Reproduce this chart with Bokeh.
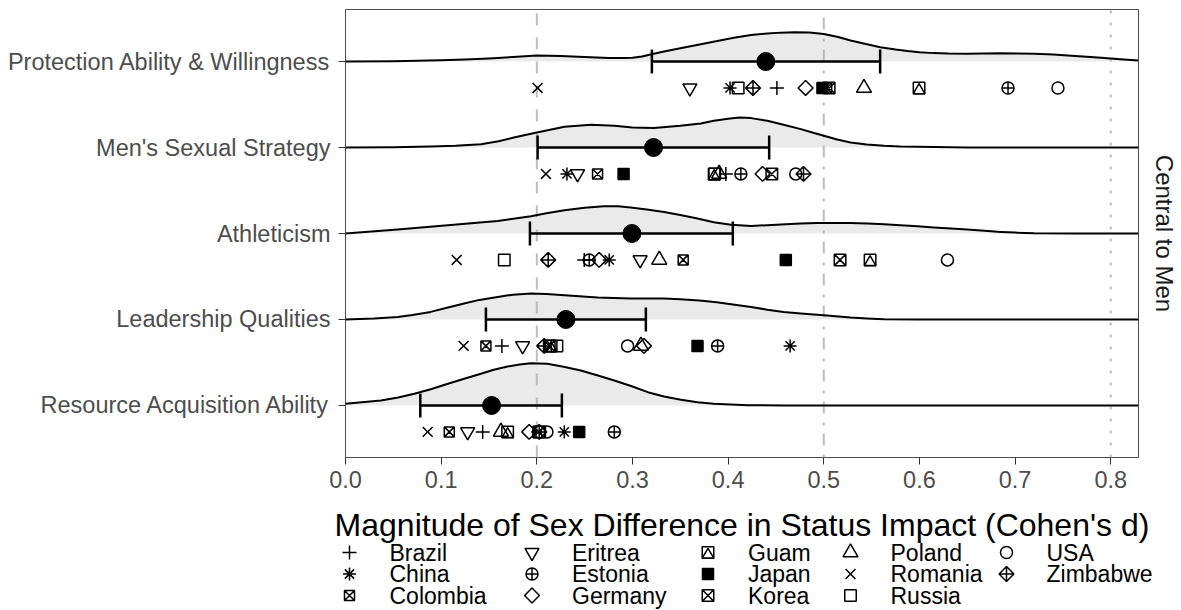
import math
from bokeh.plotting import figure
from bokeh.models import (Range1d, FixedTicker, PrintfTickFormatter, Title, ColumnDataSource)
from bokeh.core.properties import value
from bokeh.embed import file_html
from bokeh.resources import INLINE

FONT = "Liberation Sans"

# ---------------- data ----------------
categories = ["Protection Ability & Willingness", "Men's Sexual Strategy", "Athleticism",
              "Leadership Qualities", "Resource Acquisition Ability"]
row_y = [5, 4, 3, 2, 1]
x_label = "Magnitude of Sex Difference in Status Impact (Cohen's d)"
facet_label = "Central to Men"

means = [0.4394, 0.3220, 0.2994, 0.2304, 0.1527]
ci_low = [0.3203, 0.2008, 0.1928, 0.1468, 0.0782]
ci_high = [0.5589, 0.4429, 0.4049, 0.3140, 0.2262]

# ridge (density) curves: x position and height above the baseline (px)
ridge_x_protection = [0.0, 0.05, 0.10, 0.125, 0.15, 0.175, 0.20, 0.225, 0.25, 0.275, 0.29, 0.30,
                      0.31, 0.32, 0.333, 0.35, 0.3715, 0.39, 0.406, 0.424, 0.441, 0.455, 0.469,
                      0.485, 0.50, 0.515, 0.528, 0.544, 0.559, 0.575, 0.5875, 0.60, 0.615, 0.63,
                      0.65, 0.685, 0.72, 0.74, 0.755, 0.775, 0.79, 0.81, 0.829]
ridge_h_protection = [0.0, 0.3, 1.2, 2.0, 3.0, 4.5, 6.0, 5.5, 4.5, 3.6, 3.4, 3.8, 5.0, 7.3, 10.0,
                      13.3, 17.3, 20.7, 23.8, 26.5, 28.0, 28.9, 29.3, 29.0, 27.5, 24.5, 21.0, 17.5,
                      14.3, 12.0, 10.5, 9.3, 8.4, 7.9, 7.7, 8.2, 7.7, 6.9, 6.0, 4.8, 3.7, 2.3, 1.0]
ridge_x_mens = [0.0, 0.05, 0.089, 0.115, 0.1416, 0.16, 0.176, 0.20, 0.229, 0.2566, 0.281, 0.30,
                0.3224, 0.35, 0.3715, 0.385, 0.40, 0.412, 0.424, 0.441, 0.46, 0.476, 0.488, 0.50,
                0.514, 0.528, 0.545, 0.563, 0.58, 0.598, 0.65, 0.829]
ridge_h_mens = [0.0, 0.2, 1.0, 1.8, 3.3, 6.3, 10.0, 15.0, 20.7, 22.7, 21.7, 20.0, 19.4, 21.7, 24.0,
                26.7, 28.8, 29.9, 29.4, 26.7, 22.2, 18.4, 15.0, 11.7, 8.0, 5.0, 3.0, 1.7, 1.0, 0.7,
                0.0, 0.0]
ridge_x_athl = [0.0, 0.0545, 0.107, 0.159, 0.194, 0.21, 0.229, 0.25, 0.27, 0.285, 0.298, 0.315,
                0.333, 0.35, 0.368, 0.385, 0.403, 0.424, 0.441, 0.46, 0.476, 0.493, 0.5105, 0.528,
                0.5456, 0.563, 0.58, 0.598, 0.615, 0.633, 0.65, 0.668, 0.685, 0.70, 0.72, 0.76,
                0.829]
ridge_h_athl = [0.0, 4.0, 8.3, 12.6, 17.3, 20.3, 23.3, 25.8, 27.3, 27.2, 26.0, 24.0, 21.6, 18.5,
                15.0, 11.3, 8.7, 7.6, 8.3, 9.3, 10.0, 10.4, 10.6, 10.4, 10.0, 9.2, 8.3, 7.2, 6.0,
                5.0, 4.0, 2.7, 1.6, 0.9, 0.3, 0.0, 0.0]
ridge_x_lead = [0.0, 0.03, 0.0545, 0.07, 0.089, 0.105, 0.124, 0.14, 0.159, 0.175, 0.194, 0.21,
                0.229, 0.2636, 0.298, 0.333, 0.35, 0.37, 0.388, 0.405, 0.424, 0.441, 0.458, 0.476,
                0.50, 0.528, 0.545, 0.563, 0.60, 0.829]
ridge_h_lead = [0.0, 1.0, 2.6, 4.6, 7.6, 11.5, 16.0, 19.6, 22.6, 24.8, 26.0, 25.5, 24.3, 22.0,
                21.0, 21.0, 20.3, 19.0, 17.2, 15.0, 12.5, 9.8, 7.6, 6.0, 4.3, 2.0, 1.0, 0.3, 0.0,
                0.0]
ridge_x_res = [0.0, 0.037, 0.055, 0.072, 0.09, 0.107, 0.125, 0.1416, 0.155, 0.1695, 0.182, 0.1938,
               0.211, 0.228, 0.246, 0.263, 0.281, 0.30, 0.316, 0.333, 0.3506, 0.368, 0.385, 0.42,
               0.46, 0.829]
ridge_h_res = [1.7, 5.0, 8.0, 11.7, 16.5, 21.7, 27.0, 31.7, 35.8, 39.0, 41.0, 42.3, 41.7, 38.8,
               35.0, 30.2, 25.0, 19.0, 13.3, 9.0, 5.7, 3.3, 1.7, 0.3, 0.0, 0.0]

ridges_x = [ridge_x_protection, ridge_x_mens, ridge_x_athl, ridge_x_lead, ridge_x_res]
ridges_h = [ridge_h_protection, ridge_h_mens, ridge_h_athl, ridge_h_lead, ridge_h_res]

countries = ["Brazil", "China", "Colombia", "Eritrea", "Estonia", "Germany", "Guam", "Japan",
             "Korea", "Poland", "Romania", "Russia", "USA", "Zimbabwe"]
# values per category (same order as categories)
brazil = [0.451, 0.3976, 0.2496, 0.1635, 0.1434]
china = [0.402, 0.2315, 0.2757, 0.4648, 0.2287]
colombia = [0.5030, 0.2635, 0.353, 0.1468, 0.1085]
eritrea = [0.360, 0.2426, 0.308, 0.1852, 0.1277]
estonia = [0.6926, 0.4133, 0.2548, 0.389, 0.281]
germany = [0.481, 0.436, 0.2652, 0.312, 0.192]
guam = [0.5996, 0.3854, 0.5484, 0.2150, 0.1695]
japan = [0.4986, 0.2907, 0.4603, 0.368, 0.2443]
korea = [0.5056, 0.4457, 0.517, 0.2130, 0.2020]
poland = [0.542, 0.3906, 0.328, 0.3088, 0.1625]
romania = [0.2008, 0.2095, 0.1162, 0.1235, 0.0859]
russia = [0.4105, 0.3860, 0.166, 0.221, 0.2030]
usa = [0.7448, 0.4707, 0.6293, 0.2949, 0.2106]
zimbabwe = [0.426, 0.4788, 0.2119, 0.2077, 0.2025]
country_values = [brazil, china, colombia, eritrea, estonia, germany, guam, japan, korea, poland,
                  romania, russia, usa, zimbabwe]
legend_columns = [["Brazil", "China", "Colombia"], ["Eritrea", "Estonia", "Germany"],
                  ["Guam", "Japan", "Korea"], ["Poland", "Romania", "Russia"], ["USA", "Zimbabwe"]]

# ---------------- styles ----------------
PX_PER_ROW = 86.0          # pixel height of one row spacing
POINT_OFFSET = 0.307       # rows below the ridge baseline for country points
X0, X1 = 0.0, 0.829
Y0, Y1 = 0.395, 5.605
FRAME_W, FRAME_H = 793, 448
LEFT, RIGHT, TOP, BOTTOM = 345, 43, 9, 45
PAGE_W, PAGE_H = 1181, 610
px_y = (Y1 - Y0) / FRAME_H  # data units per pixel (y)

# (marker, size, angle, fill, dy_px)
marker_style = {
    "Brazil": [("cross", 14, 0, None, 0)],
    "China": [("asterisk", 13, 0, None, 0)],
    "Colombia": [("square_x", 10, 0, None, 0)],
    "Eritrea": [("inverted_triangle", 14, 0, None, 0)],
    "Estonia": [("circle_cross", 12, 0, None, 0)],
    "Germany": [("square", 10.5, math.pi / 4, None, 0)],
    "Guam": [("square", 11.5, 0, None, 0), ("triangle", 11.5, 0, None, 2.4)],
    "Japan": [("square", 11, 0, "black", 0)],
    "Korea": [("square_x", 11.5, 0, None, 0)],
    "Poland": [("triangle", 15, 0, None, 0)],
    "Romania": [("x", 14, 0, None, 0)],
    "Russia": [("square", 11.5, 0, None, 0)],
    "USA": [("circle", 12, 0, None, 0)],
    "Zimbabwe": [("square_x", 10.5, math.pi / 4, None, 0)],
}
legend_glyph_x = [349, 531.5, 707.5, 850, 1006]   # page px
LEGEND_ROW1_Y = 552                                # page px
LEGEND_PITCH = 21.5
LEGEND_TEXT_GAP = 40
XLABEL_BASELINE_Y = 524                            # page px

p = figure(frame_width=FRAME_W, frame_height=FRAME_H, output_backend="svg", toolbar_location=None,
           x_range=Range1d(X0, X1), y_range=Range1d(Y0, Y1),
           min_border_left=LEFT, min_border_right=RIGHT, min_border_top=TOP,
           min_border_bottom=BOTTOM, background_fill_color="white", border_fill_color="white")
p.grid.visible = False
p.outline_line_color = "#4d4d4d"
p.outline_line_width = 1

# reference lines
p.segment(x0=[0.2], y0=[Y0], x1=[0.2], y1=[Y1], line_color="#bdbdbd", line_width=2, line_dash="12 12")
p.segment(x0=[0.5], y0=[Y0], x1=[0.5], y1=[Y1], line_color="#bdbdbd", line_width=2, line_dash="3 9 12 8")
p.segment(x0=[0.8], y0=[Y0], x1=[0.8], y1=[Y1], line_color="#bdbdbd", line_width=2, line_dash="3 9")

# ridges
for yb, rx, rh in zip(row_y, ridges_x, ridges_h):
    top = [yb + h / PX_PER_ROW for h in rh]
    p.varea(x=rx, y1=[yb] * len(rx), y2=top, fill_color="#b3b3b3", fill_alpha=0.27)
    p.line(rx, top, line_color="black", line_width=2, line_join="round")

# CI bars and means
cap = 12 * px_y
p.segment(x0=ci_low, y0=row_y, x1=ci_high, y1=row_y, line_color="black", line_width=2.5)
p.segment(x0=ci_low, y0=[y - cap for y in row_y], x1=ci_low, y1=[y + cap for y in row_y],
          line_color="black", line_width=2.5)
p.segment(x0=ci_high, y0=[y - cap for y in row_y], x1=ci_high, y1=[y + cap for y in row_y],
          line_color="black", line_width=2.5)
p.scatter(x=means, y=row_y, size=18, marker="circle", fill_color="black", line_color="black")

# country points
for name, vals in zip(countries, country_values):
    for (mk, sz, ang, fill, dy) in marker_style[name]:
        ys = [y - POINT_OFFSET - dy * px_y for y in row_y]
        src = ColumnDataSource(dict(x=vals, y=ys))
        p.scatter("x", "y", source=src, marker=mk, size=sz, angle=ang,
                  line_color="black", line_width=1.5,
                  fill_color=fill if fill else None, fill_alpha=1 if fill else 0)

# axes
p.xaxis.ticker = FixedTicker(ticks=[0.0, 0.1, 0.2, 0.3, 0.4, 0.5, 0.6, 0.7, 0.8])
p.xaxis.formatter = PrintfTickFormatter(format="%.1f")
p.yaxis.ticker = FixedTicker(ticks=row_y)
p.yaxis.major_label_overrides = {y: c for y, c in zip(row_y, categories)}
for ax in (p.xaxis, p.yaxis):
    ax.axis_line_color = None
    ax.major_tick_line_color = "#333333"
    ax.major_tick_out = 7
    ax.major_tick_in = 0
    ax.minor_tick_line_color = None
    ax.major_label_text_font = FONT
    ax.major_label_text_font_size = "23.5px"
    ax.major_label_text_color = "#4d4d4d"
p.yaxis.major_label_standoff = 8
p.xaxis.major_label_standoff = 6

strip = Title(text=facet_label, align="center", text_font=FONT, text_font_size="24px",
              text_font_style="normal", text_color="#1a1a1a", offset=0, standoff=24)
p.add_layout(strip, "right")

# ---------------- lower strip: axis title and legend ----------------
main_h = TOP + FRAME_H + BOTTOM
leg_h = PAGE_H - main_h
q = figure(frame_width=PAGE_W, frame_height=leg_h, output_backend="svg", toolbar_location=None,
           x_range=Range1d(0, PAGE_W), y_range=Range1d(leg_h, 0),
           min_border=0, x_axis_location=None, y_axis_location=None,
           background_fill_color="white", border_fill_color="white")
q.grid.visible = False
q.outline_line_color = None

q.text(x=[LEFT + FRAME_W / 2], y=[XLABEL_BASELINE_Y - main_h], text=[x_label],
       text_font=value(FONT), text_font_size="32px", text_align="center",
       text_baseline="alphabetic", text_color="black")

for gx, names in zip(legend_glyph_x, legend_columns):
    for r, name in enumerate(names):
        gy = LEGEND_ROW1_Y + r * LEGEND_PITCH - main_h
        for (mk, sz, ang, fill, dy) in marker_style[name]:
            q.scatter(x=[gx], y=[gy + dy], marker=mk, size=sz, angle=ang,
                      line_color="black", line_width=1.5,
                      fill_color=fill if fill else None, fill_alpha=1 if fill else 0)
        q.text(x=[gx + LEGEND_TEXT_GAP], y=[gy], text=[name], text_font=value(FONT),
               text_font_size="23px", text_align="left", text_baseline="middle",
               text_color="black")

open("out.html", "w").write(file_html([p, q], INLINE))
